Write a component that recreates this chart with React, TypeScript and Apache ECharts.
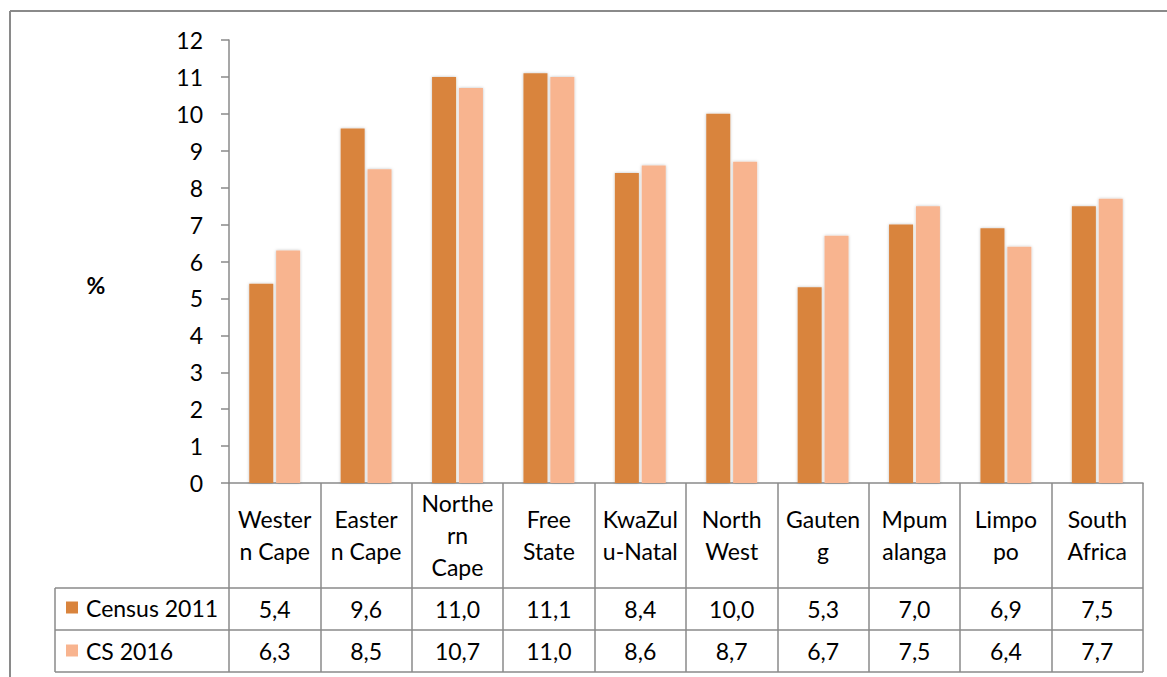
import React, { useEffect, useRef } from "react";
import * as echarts from "echarts";

const categories = ["Western Cape", "Eastern Cape", "Northern Cape", "Free State", "KwaZulu-Natal", "North West", "Gauteng", "Mpumalanga", "Limpopo", "South Africa"];
const categoryLabels = ["Wester\nn Cape", "Easter\nn Cape", "Northe\nrn\nCape", "Free\nState", "KwaZul\nu-Natal", "North\nWest", "Gauten\ng", "Mpum\nalanga", "Limpo\npo", "South\nAfrica"];
const census2011 = [5.4, 9.6, 11.0, 11.1, 8.4, 10.0, 5.3, 7.0, 6.9, 7.5];
const cs2016 = [6.3, 8.5, 10.7, 11.0, 8.6, 8.7, 6.7, 7.5, 6.4, 7.7];
const seriesNames = ["Census 2011", "CS 2016"];
const yMin = 0;
const yMax = 12;
const yInterval = 1;

const FONT = "Lato, 'Liberation Sans', sans-serif";
const FS = 23;
const GREY = "#8a8a8a";
const fmt = (v: number) => v.toFixed(1).replace(".", ",");

export default function App() {
  const ref = useRef<HTMLDivElement>(null);
  useEffect(() => {
    if (!ref.current) return;
    const chart = echarts.init(ref.current, null, { renderer: "svg" });
    const valueAxis = (data: string[], margin: number) => ({
      type: "category",
      gridIndex: 0,
      position: "bottom",
      data,
      axisLine: { show: false },
      axisTick: { show: false },
      splitLine: { show: false },
      axisLabel: {
        interval: 0,
        margin,
        verticalAlign: "middle",
        fontSize: FS,
        fontFamily: FONT,
        color: "#000",
      },
    });
    chart.setOption({
      animation: false,
      backgroundColor: "#fff",
      grid: { left: 229, right: 24, top: 40, bottom: 194 },
      legend: {
        orient: "vertical",
        left: 66,
        top: 596,
        padding: 0,
        itemGap: 20,
        itemWidth: 12,
        itemHeight: 12,
        icon: "rect",
        data: seriesNames,
        textStyle: { fontSize: FS, lineHeight: 22, fontFamily: FONT, color: "#000", padding: [0, 0, 0, 3] },
      },
      xAxis: [
        {
          type: "category",
          data: categoryLabels,
          axisLine: { show: true, lineStyle: { color: GREY, width: 1.5 } },
          axisTick: { show: true, length: 189, lineStyle: { color: GREY, width: 1.5 } },
          axisLabel: {
            interval: 0,
            margin: 52,
            verticalAlign: "middle",
            lineHeight: 32,
            fontSize: FS,
            fontFamily: FONT,
            color: "#000",
          },
        },
        valueAxis(census2011.map(fmt), 126),
        valueAxis(cs2016.map(fmt), 168),
      ],
      yAxis: {
        type: "value",
        min: yMin,
        max: yMax,
        interval: yInterval,
        axisLine: { show: true, lineStyle: { color: GREY, width: 1.5 } },
        axisTick: { show: true, length: 8, lineStyle: { color: GREY, width: 1.5 } },
        splitLine: { show: false },
        axisLabel: { margin: 26, fontSize: FS, fontFamily: FONT, color: "#000" },
      },
      series: [
        {
          name: seriesNames[0],
          type: "bar",
          data: census2011,
          barWidth: 24,
          barGap: "12%",
          itemStyle: { color: "#D9843D", shadowBlur: 3, shadowColor: "rgba(0,0,0,0.25)" },
        },
        {
          name: seriesNames[1],
          type: "bar",
          data: cs2016,
          barWidth: 24,
          itemStyle: { color: "#F8B48F", shadowBlur: 3, shadowColor: "rgba(0,0,0,0.25)" },
        },
      ],
      graphic: [
        { type: "line", shape: { x1: 10, y1: 11, x2: 1167, y2: 11 }, style: { stroke: GREY, lineWidth: 2 } },
        { type: "line", shape: { x1: 10, y1: 11, x2: 10, y2: 677 }, style: { stroke: GREY, lineWidth: 2 } },
        { type: "line", shape: { x1: 55, y1: 588, x2: 1143, y2: 588 }, style: { stroke: GREY, lineWidth: 1.5 } },
        { type: "line", shape: { x1: 55, y1: 630, x2: 1143, y2: 630 }, style: { stroke: GREY, lineWidth: 1.5 } },
        { type: "line", shape: { x1: 55, y1: 672, x2: 1143, y2: 672 }, style: { stroke: GREY, lineWidth: 1.5 } },
        { type: "line", shape: { x1: 55, y1: 588, x2: 55, y2: 672 }, style: { stroke: GREY, lineWidth: 1.5 } },
        {
          type: "text",
          x: 96,
          y: 285,
          style: { text: "%", fontSize: FS, fontWeight: "bold", fontFamily: FONT, fill: "#000", align: "center", verticalAlign: "middle" },
        },
      ],
    });
    return () => chart.dispose();
  }, []);
  return <div ref={ref} style={{ position: "fixed", left: 0, top: 0, width: 1167, height: 677 }} />;
}
